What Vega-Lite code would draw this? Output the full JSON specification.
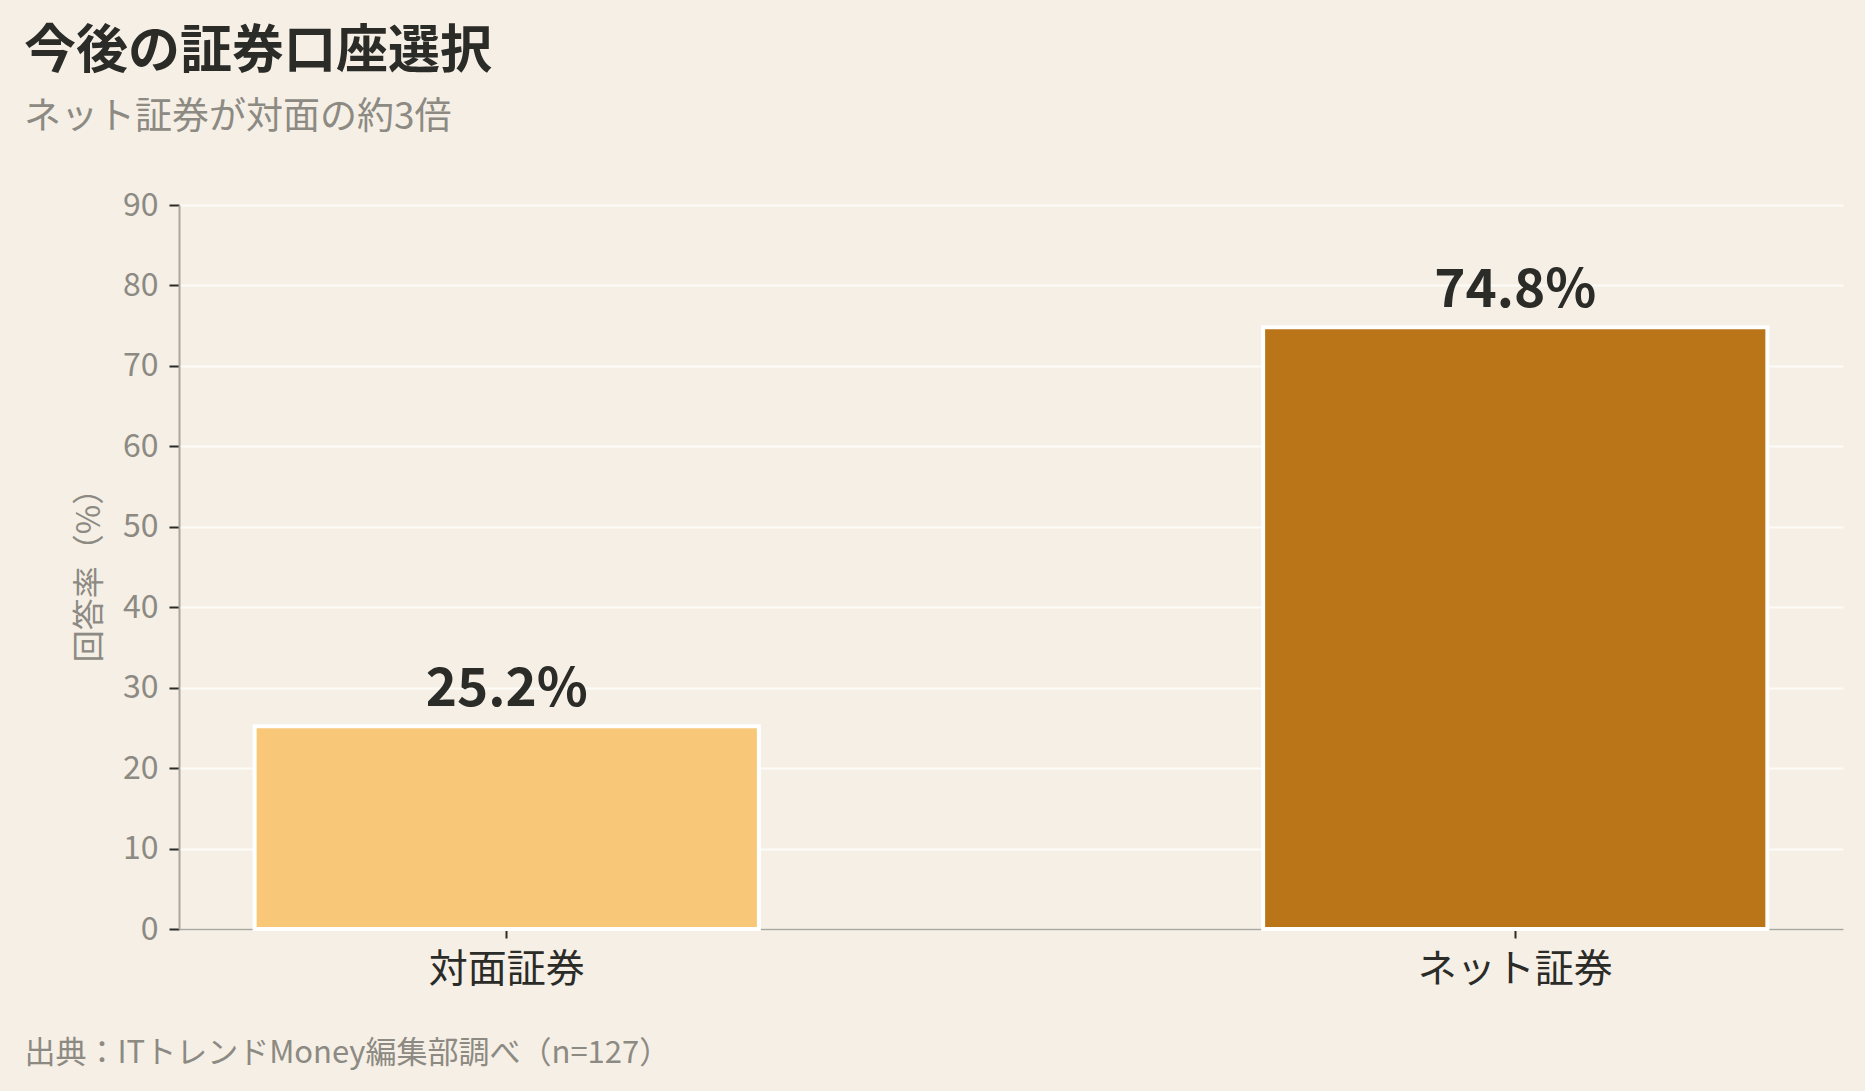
{
  "$schema": "https://vega.github.io/schema/vega-lite/v6.json",
  "description": "今後の証券口座選択",
  "width": 1664,
  "height": 724,
  "autosize": {"type": "none"},
  "padding": {"left": 179, "top": 205, "right": 22, "bottom": 162},
  "background": "#f5efe6",
  "title": {
    "text": "今後の証券口座選択",
    "subtitle": "ネット証券が対面の約3倍",
    "anchor": "start",
    "frame": "group",
    "dx": -155,
    "offset": 52,
    "font": "Noto Sans CJK JP",
    "fontSize": 52,
    "fontWeight": "bold",
    "color": "#2b2b28",
    "subtitleFont": "Noto Sans CJK JP",
    "subtitleFontSize": 37,
    "subtitleColor": "#8c8a82",
    "subtitlePadding": 21
  },
  "config": {
    "view": {"stroke": null},
    "font": "Noto Sans CJK JP"
  },
  "data": {
    "values": [
      {"type": "対面証券", "rate": 25.2},
      {"type": "ネット証券", "rate": 74.8}
    ]
  },
  "transform": [
    {"calculate": "format(datum.rate, '.1f') + '%'", "as": "label"}
  ],
  "encoding": {
    "x": {
      "field": "type", "type": "nominal", "sort": null,
      "scale": {"paddingInner": 0.5, "paddingOuter": 0.075},
      "axis": {
        "title": "出典：ITトレンドMoney編集部調べ（n=127）",
        "titleX": -155, "titleY": 133,
        "titleAlign": "left", "titleAnchor": "start", "titleBaseline": "alphabetic",
        "titleFontSize": 31, "titleFontWeight": "normal", "titleColor": "#8c8a82",
        "labelAngle": 0, "labelFontSize": 39, "labelColor": "#2b2b28", "labelPadding": 12, "labelLimit": 600,
        "tickSize": 9, "tickWidth": 2, "tickColor": "#2b2b28",
        "domainColor": "#aaa79f", "domainWidth": 1.5,
        "grid": false
      }
    },
    "y": {
      "field": "rate", "type": "quantitative",
      "scale": {"domain": [0, 90], "nice": false},
      "axis": {
        "title": "回答率（%）",
        "values": [0, 10, 20, 30, 40, 50, 60, 70, 80, 90],
        "titleFontSize": 32, "titleFontWeight": "normal", "titleColor": "#8c8a82", "titlePadding": 16,
        "labelFontSize": 32, "labelColor": "#8c8a82", "labelPadding": 11,
        "tickSize": 10, "tickWidth": 2, "tickColor": "#2b2b28",
        "domainColor": "#aaa79f", "domainWidth": 2,
        "gridColor": "#fdfbf8", "gridWidth": 2
      }
    }
  },
  "layer": [
    {
      "mark": {"type": "bar", "stroke": "white", "strokeWidth": 4},
      "encoding": {
        "color": {
          "field": "type", "type": "nominal", "legend": null,
          "scale": {"domain": ["対面証券", "ネット証券"], "range": ["#f8c777", "#b97518"]}
        }
      }
    },
    {
      "mark": {"type": "text", "dy": -20, "baseline": "alphabetic", "fontSize": 53, "fontWeight": "bold", "color": "#2b2b28"},
      "encoding": {
        "text": {"field": "label"}
      }
    }
  ]
}
